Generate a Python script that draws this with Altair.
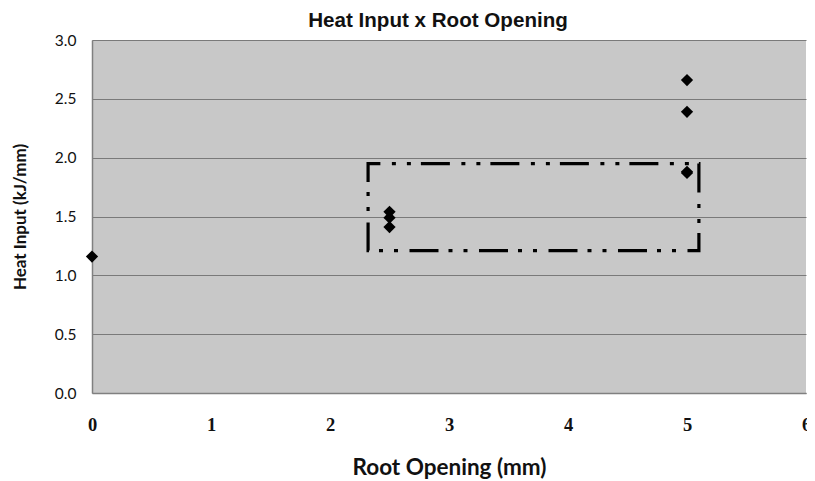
import altair as alt
import pandas as pd

root_opening = [0, 2.5, 2.5, 2.5, 5, 5, 5, 5]
heat_input = [1.16, 1.54, 1.49, 1.41, 2.66, 2.39, 1.88, 1.87]
box_x = [2.32, 5.10]
box_y = [1.21, 1.95]
x_ticks = [0, 1, 2, 3, 4, 5, 6]
y_ticks = [0.0, 0.5, 1.0, 1.5, 2.0, 2.5, 3.0]

pts = pd.DataFrame({"x": root_opening, "y": heat_input})
box = pd.DataFrame({"x1": [box_x[0]], "x2": [box_x[1]], "y1": [box_y[0]], "y2": [box_y[1]]})

xscale = alt.Scale(domain=[0, 6], nice=False, zero=False)
yscale = alt.Scale(domain=[0, 3], nice=False)

xaxis = alt.Axis(
    title="Root Opening (mm)", values=x_ticks, format="d", grid=False, ticks=False,
    domainColor="#808080", domainWidth=1.5, labelFlush=False,
    labelFont="Liberation Serif", labelFontSize=18.5, labelFontWeight="bold", labelColor="#111",
    labelPadding=22, titleFont="Lato", titleFontSize=22.5, titleFontWeight="bold",
    titleColor="#111", titlePadding=23,
)
yaxis = alt.Axis(
    title="Heat Input (kJ/mm)", values=y_ticks, format=".1f", grid=True, gridColor="#7a7a7a",
    gridWidth=1, ticks=False, domainColor="#808080", domainWidth=1.5,
    labelFont="Lato", labelFontSize=15.5, labelColor="#111", labelPadding=16, labelFlush=False,
    titleFont="Lato", titleFontSize=17, titleFontWeight="bold", titleColor="#111", titlePadding=25,
)

rect = alt.Chart(box).mark_rect(
    fill="#c8c8c8", fillOpacity=0, stroke="black", strokeWidth=3.2,
    strokeDash=[29, 11.5, 4, 11, 4, 10], strokeDashOffset=16.7,
).encode(
    x=alt.X("x1:Q", scale=xscale, axis=xaxis), x2="x2:Q",
    y=alt.Y("y1:Q", scale=yscale, axis=yaxis), y2="y2:Q",
)

points = alt.Chart(pts).mark_point(
    shape="diamond", filled=True, color="black", size=150, opacity=1
).encode(
    x=alt.X("x:Q", scale=xscale, axis=xaxis),
    y=alt.Y("y:Q", scale=yscale, axis=yaxis),
)

chart = alt.layer(rect, points).properties(
    width=714, height=353,
    autosize=alt.AutoSizeParams(type="none"),
    padding={"left": 84, "top": 32, "right": 1, "bottom": 88},
    title=alt.TitleParams(
        "Heat Input x Root Opening", font="Liberation Sans", fontSize=20.6, fontWeight="bold",
        color="#111", anchor="middle", frame="group", offset=1, dx=-11,
    ),
).configure(
    background="white",
    view=alt.ViewConfig(fill="#c8c8c8", stroke=None),
)

chart.save("out.html", embed_options={"renderer": "svg", "actions": False})
